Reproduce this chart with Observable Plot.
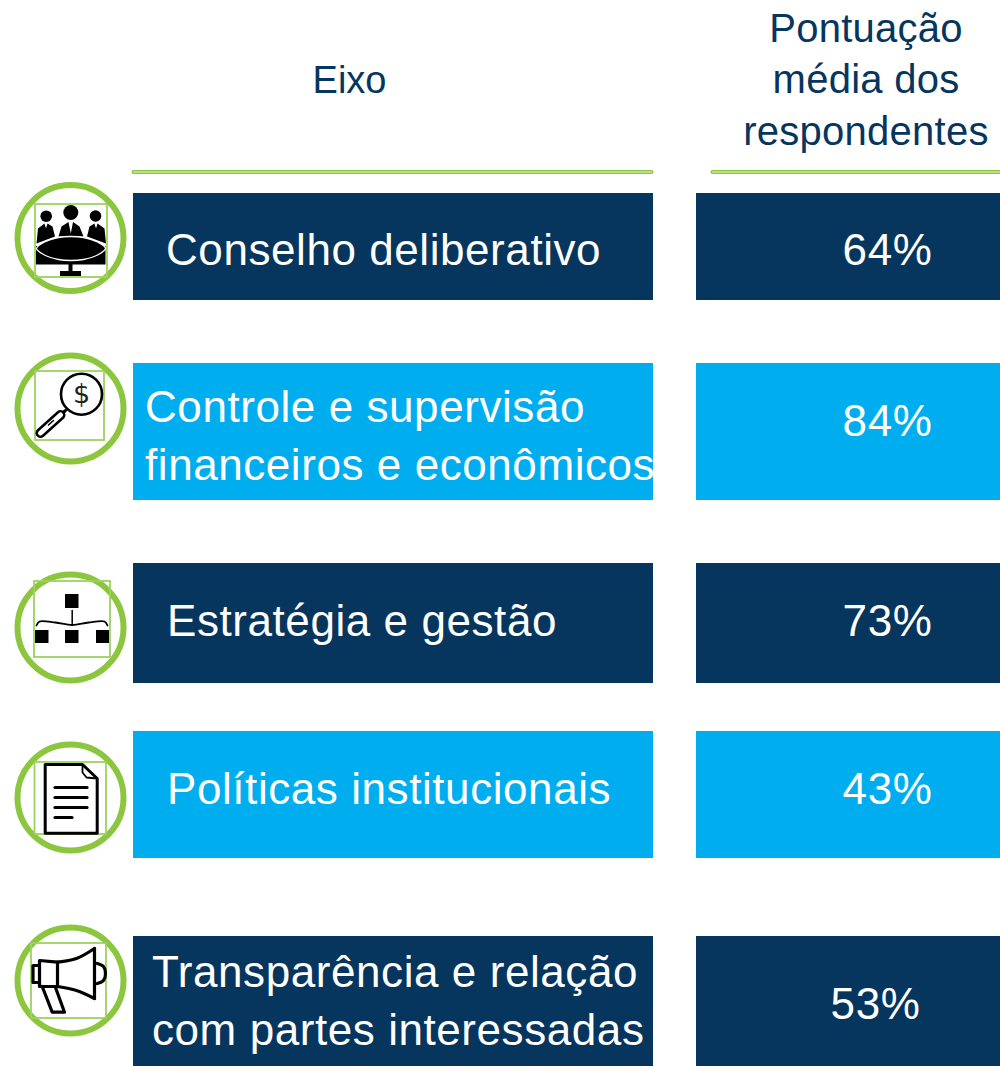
<!DOCTYPE html>
<html><head><meta charset="utf-8">
<script src="https://cdn.jsdelivr.net/npm/d3@7"></script>
<script src="https://cdn.jsdelivr.net/npm/@observablehq/plot@0.6"></script>
<style>html,body{margin:0;padding:0;background:#fff}svg{display:block}
svg [font-size="44"]{letter-spacing:.57px}
svg [font-size="40"]{letter-spacing:.25px}
</style>
</head><body><div id="chart"></div>
<script>
// ---- chart content
const headerEixo = "Eixo";
const headerPontuacao = "Pontuação\nmédia dos\nrespondentes";
const eixos = ["Conselho deliberativo","Controle e supervisão\nfinanceiros e econômicos","Estratégia e gestão","Políticas institucionais","Transparência e relação\ncom partes interessadas"];
const pontuacao = [64,84,73,43,53];
// ---- layout (pixel space of the identity scales)
const rowTop = [193,363,563,731,936];
const rowBottom = [300,500,683,858,1066];
const labelX = [165.5,144.5,166.5,166.5,151.5];
const labelY = [246,432,617,785,997];
const scoreX = [887,887,887,887,875];
const scoreY = [250,421,621,789,1004];
const iconY = [237.5,408,627,797,980];
const frames = [[35,204,107,277],[35,371,104,440],[34,581,110,657],[34.5,762,106,834],[31,943,106,1018]];
const NAVY="#06355e", SKY="#00aeef", GREEN="#8cc63f", FRAME="#9dd25f", FONT="Liberation Sans";
const rows = eixos.map((e,i)=>({e,p:pontuacao[i],t:rowTop[i],b:rowBottom[i],lx:labelX[i],ly:labelY[i],sx:scoreX[i],sy:scoreY[i],c:i%2?SKY:NAVY}));
const poly=(pts,o={})=>Plot.line(pts,{x:d=>d[0],y:d=>d[1],stroke:"black",strokeWidth:3.2,strokeLinejoin:"round",strokeLinecap:"round",...o});
const box=(x1,y1,x2,y2,o={})=>Plot.rect([0],{x1:()=>x1,y1:()=>y1,x2:()=>x2,y2:()=>y2,fill:"black",...o});
const dot=(x,y,r,o={})=>Plot.dot([0],{x:()=>x,y:()=>y,r,fill:"black",...o});
const filled={fill:"black",strokeWidth:0,curve:"linear-closed"};
const icon1=[
 dot(45.7,215.7,5.8),dot(70.3,212,7.5),dot(95,215.5,5.8),
 poly([[36,243],[37.5,228],[44,223],[45.5,228],[47,223],[52,226],[54.5,236]],filled),
 poly([[58,236],[61,226],[68,221.5],[70.3,233],[72.5,221.5],[79,226],[83,236]],filled),
 poly([[86.5,236],[89,226],[94,223],[95.5,228],[97,223],[104,228],[105.5,243]],filled),
 box(36,246,105.5,264.5),
 poly([[36,248],[44,241.5],[58,237],[70,236],[83,237],[97,241.5],[105,248],[97,254.5],[83,259],[70,260],[58,259],[44,254.5]],{curve:"catmull-rom-closed",fill:"black",stroke:"white",strokeWidth:1.3}),
 box(68.5,264,72.5,272),box(60,271,81,276)
];
const icon2=[
 poly([[65,410],[58,416]],{strokeWidth:3}),
 poly([[60,414.5],[40,432.5]],{strokeWidth:10}),
 poly([[60,414.5],[40,432.5]],{stroke:"white",strokeWidth:5}),
 poly([[53,420],[48,424.5]],{strokeWidth:1.5}),
 dot(81,393.7,20.5,{fill:"white",stroke:"black",strokeWidth:2.6}),
 Plot.text(["$"],{x:()=>81,y:()=>394,fontSize:27,fontFamily:"DejaVu Sans",fill:"#222"})
];
const icon3=[
 box(65,594,78.5,608),box(35,630,48.5,643),box(65,630,78.5,643),box(96,630,109,643),
 poly([[71.7,610],[71.7,623]],{strokeWidth:1.5}),
 poly([[36,625],[39,621],[55,622],[71.7,624.5],[88,622],[104,621],[107,625]],{strokeWidth:1.8,curve:"catmull-rom"})
];
const icon4=[
 poly([[44.7,764],[82,764],[96.7,778],[96.7,832.7],[44.7,832.7]],{curve:"linear-closed",strokeWidth:3}),
 poly([[82,764],[82,772],[86,777],[96.7,778]],{strokeWidth:1.8}),
 poly([[54.5,787],[86.5,787]]),poly([[54.5,797],[86.5,797]]),poly([[54.5,807],[86.5,807]]),poly([[54.5,817],[71.5,817]])
];
const icon5=[
 poly([[57,961.7],[76,958],[94,948]],{curve:"catmull-rom"}),
 poly([[94,948],[94,998]]),
 poly([[57,986],[76,990],[94,998]],{curve:"catmull-rom"}),
 poly([[39,960],[57,961.7],[57,986],[39,986]],{curve:"linear-closed"}),
 poly([[39,965],[32.5,965],[32.5,982],[39,982]]),
 poly([[96.7,963],[103,966],[105,973],[103,980],[96.7,983]],{curve:"catmull-rom"}),
 poly([[41.7,986],[51.7,1011.7],[64,1011.7],[55,987]])
];
const rule=(x1,x2)=>[
 poly([[x1,171.5],[x2,171.5]],{stroke:GREEN,strokeWidth:4}),
 poly([[x1,171.5],[x2,171.5]],{stroke:"#eaf5d8",strokeWidth:1.2})
];
const plot=Plot.plot({
 width:1000,height:1066,margin:0,
 style:{fontFamily:FONT,background:"white"},
 x:{domain:[0,1000],range:[0,1000],axis:null},
 y:{domain:[0,1066],range:[0,1066],axis:null},
 marks:[
  Plot.rect(rows,{x1:()=>133,x2:()=>653,y1:"t",y2:"b",fill:"c"}),
  Plot.rect(rows,{x1:()=>696,x2:()=>1000,y1:"t",y2:"b",fill:"c"}),
  Plot.text(rows,{x:"lx",y:"ly",text:"e",textAnchor:"start",fill:"white",fontSize:44,lineHeight:57.5/44}),
  Plot.text(rows,{x:"sx",y:"sy",text:d=>d.p+"%",fill:"white",fontSize:44}),
  Plot.text([headerEixo],{x:()=>349,y:()=>80,fill:NAVY,fontSize:38}),
  Plot.text([headerPontuacao],{x:()=>865.5,y:()=>76.5,fill:NAVY,fontSize:40,lineHeight:51.5/40}),
  ...rule(133,651),...rule(712,1001),
  Plot.dot(iconY,{x:()=>70,y:d=>d,r:53,stroke:GREEN,strokeWidth:6,fill:"white"}),
  Plot.rect(frames,{x1:d=>d[0],y1:d=>d[1],x2:d=>d[2],y2:d=>d[3],stroke:FRAME,strokeWidth:1.8,fill:"none"}),
  ...icon1,...icon2,...icon3,...icon4,...icon5
 ]
});
document.getElementById("chart").append(plot);
</script></body></html>
